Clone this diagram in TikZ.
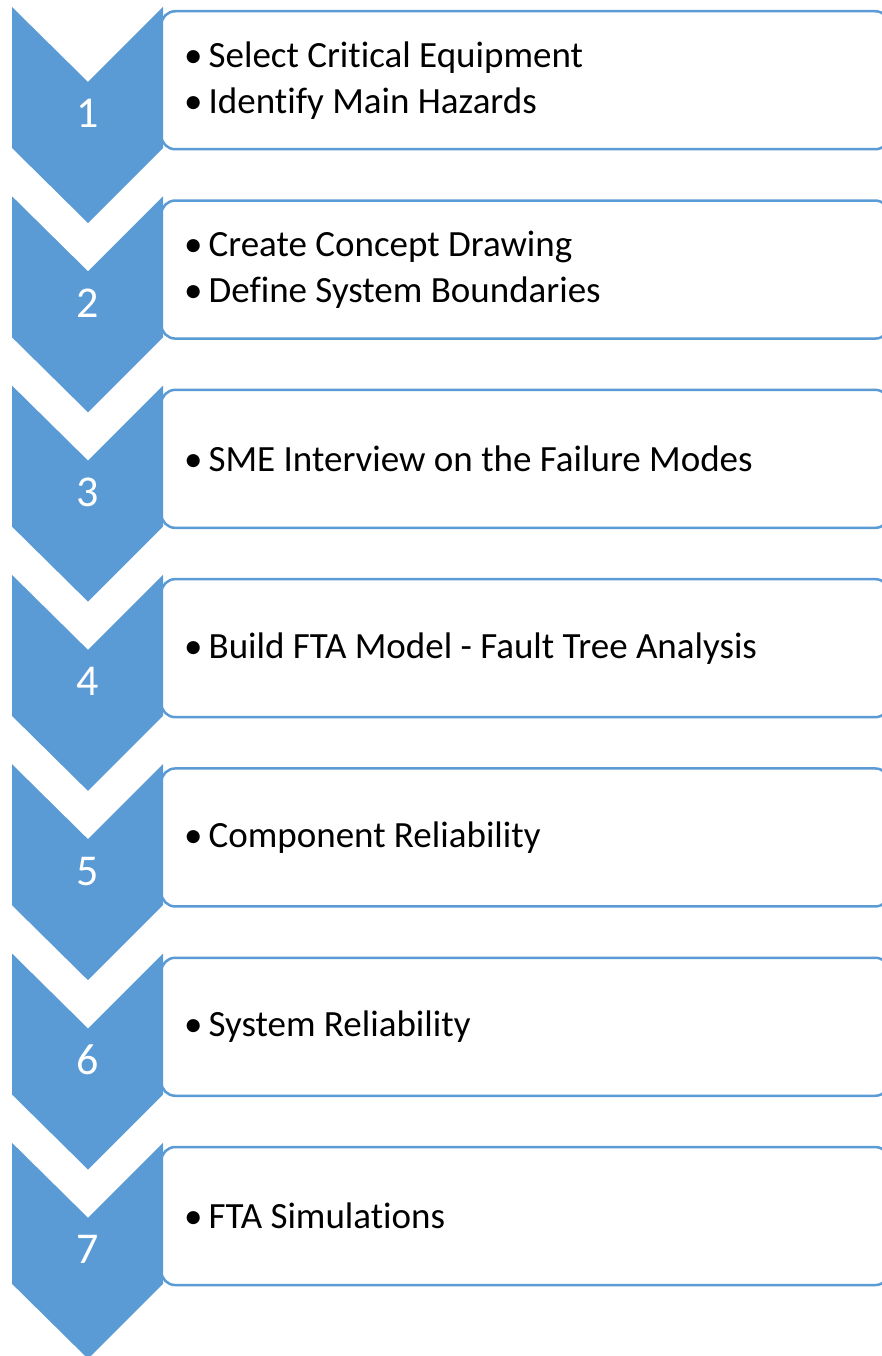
\documentclass[tikz,border=0pt]{standalone}
\usepackage{fontspec}
\setmainfont[Ligatures=NoCommon]{Carlito}
\usetikzlibrary{positioning}
\definecolor{stepblue}{HTML}{5B9BD5}
\tikzset{
	chevron/.style={
		fill=stepblue,
		draw=none
	},
	stepbox/.style={
		draw=stepblue,
		line width=2.5pt,
		rounded corners=14pt,
		fill=white,
		minimum width=728pt,
		minimum height=138pt,
		inner sep=0pt,
		anchor=north west
	},
	stepnum/.style={
		text=white,
		anchor=base,
		font=\fontsize{44}{44}\selectfont
	},
	steptext/.style={
		align=left,
		anchor=west,
		inner sep=0pt,
		font=\fontsize{37}{46}\selectfont
	}
}
\newcommand{\bul}{\textbullet\hspace{6pt}}

\begin{document}
\begin{tikzpicture}[x=1pt,y=-1pt]
		\useasboundingbox (0,0) rectangle (881,1356);
		
		\foreach \n/\txt in {
			1/{\bul Select Critical Equipment\\\bul Identify Main Hazards},
			2/{\bul Create Concept Drawing\\\bul Define System Boundaries},
			3/{\bul SME Interview on the Failure Modes},
			4/{\bul Build FTA Model - Fault Tree Analysis},
			5/{\bul Component Reliability},
			6/{\bul System Reliability},
			7/{\bul FTA Simulations}} {
			\pgfmathsetmacro{\top}{7+(\n-1)*189.3}
			
			% text box
			\node[stepbox] (box\n) at (160,\top+3) {};
			\node[steptext] (txt\n) at ([xshift=24pt]box\n.west) {\txt};
			
			% chevron with step number
			\fill[chevron] (12,\top) -- (88,\top+75) -- (163,\top) -- (163,\top+141)
				-- (88,\top+216) -- (12,\top+141) -- cycle;
			\node[stepnum] (num\n) at (88,\top+121) {\n};
		}
\end{tikzpicture}
\end{document}
